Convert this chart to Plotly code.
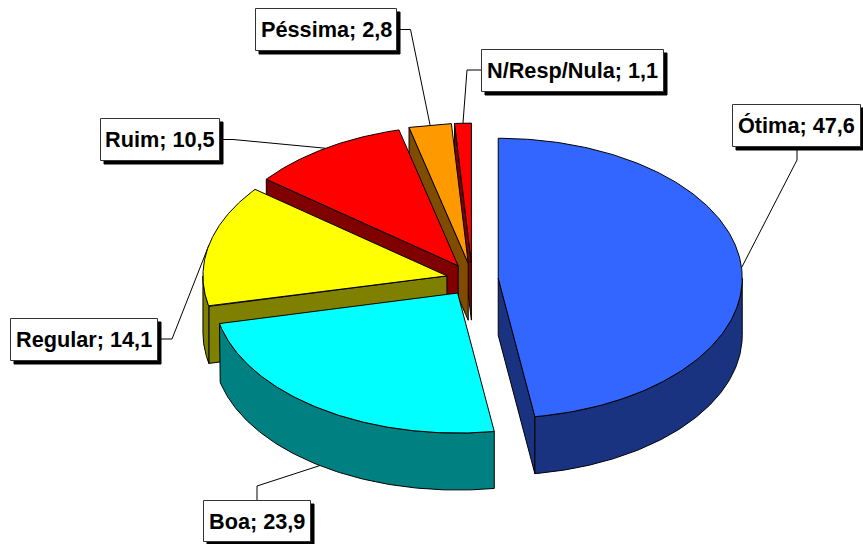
import numpy as np
import plotly.graph_objects as go

categories = ["Ótima", "Boa", "Regular", "Ruim", "Péssima", "N/Resp/Nula"]
values = [47.6, 23.9, 14.1, 10.5, 2.8, 1.1]
top_colors = ["#3366FF", "#00FFFF", "#FFFF00", "#FF0000", "#FF9900", "#FF0000"]
side_colors = ["#1A3380", "#008080", "#808000", "#800000", "#804D00", "#800000"]

W, H = 863, 544
CX, CY, RX, RY, DEPTH = 472.3, 279.5, 244.0, 140.0, 57.0
EXP_X, EXP_Y = 26.0, 16.4
BOXES = {  # left, top, right, bottom of the label boxes
    "Ótima": (732.5, 104.5, 860.5, 146.5),
    "Boa": (203.5, 500.5, 310.5, 541.5),
    "Regular": (10.5, 318.5, 157.5, 360.5),
    "Ruim": (100.5, 118.5, 219.5, 160.5),
    "Péssima": (255.5, 8.5, 396.5, 50.5),
    "N/Resp/Nula": (481.5, 49.5, 663.5, 91.5),
}
ELBOWS = {  # leader line: attachment on the box, then elbow
    "Ótima": [(797, 150), (797, 160)],
    "Boa": [(257, 500), (257, 486)],
    "Regular": [(161, 339), (172, 339)],
    "Ruim": [(222, 139.5), (233, 139.5)],
    "Péssima": [(400, 29.5), (410.5, 29.5)],
    "N/Resp/Nula": [(481, 70), (467, 70)],
}
SHADOW = 3.5


def pt(cx, cy, ang):
    return cx + RX * np.sin(ang), cy - RY * np.cos(ang)


fig = go.Figure()


def poly(xs, ys, fill):
    fig.add_trace(go.Scatter(x=list(xs), y=list(ys), mode="lines", fill="toself",
                             fillcolor=fill, line=dict(color="black", width=1),
                             hoverinfo="skip", showlegend=False))


def leader(xs, ys):
    fig.add_trace(go.Scatter(x=xs, y=ys, mode="lines", line=dict(color="black", width=1),
                             hoverinfo="skip", showlegend=False))


total = sum(values)
edges = np.concatenate([[0], np.cumsum(values)]) / total * 2 * np.pi
order = list(range(len(values)))[::-1]  # back slices first; the largest sits apart
for i in order:
    a0, a1 = edges[i], edges[i + 1]
    mid = (a0 + a1) / 2
    cx = CX + EXP_X * np.sin(mid)
    cy = CY - EXP_Y * np.cos(mid)
    x0, y0 = pt(cx, cy, a0)
    x1, y1 = pt(cx, cy, a1)
    # radial cut faces, only those that face the viewer
    if np.sin(a0) < -1e-9:
        poly([cx, x0, x0, cx, cx], [cy, y0, y0 + DEPTH, cy + DEPTH, cy], side_colors[i])
    if np.sin(a1) > 1e-9:
        poly([cx, x1, x1, cx, cx], [cy, y1, y1 + DEPTH, cy + DEPTH, cy], side_colors[i])
    # outer wall: only the part that faces the viewer
    lo, hi = max(a0, np.pi / 2), min(a1, 3 * np.pi / 2)
    if hi > lo:
        t = np.linspace(lo, hi, 120)
        wx, wy = pt(cx, cy, t)
        poly(np.r_[wx, wx[::-1], wx[0]], np.r_[wy, wy[::-1] + DEPTH, wy[0]], side_colors[i])
    # leader goes under the top face
    ax, ay = pt(cx, cy, mid)
    if categories[i] == "Boa":
        ay += DEPTH
    elbow = ELBOWS[categories[i]]
    leader([p[0] for p in elbow] + [ax], [p[1] for p in elbow] + [ay])
    # top face
    t = np.linspace(a0, a1, 200)
    tx, ty = pt(cx, cy, t)
    poly(np.r_[cx, tx, cx], np.r_[cy, ty, cy], top_colors[i])

shapes, annotations = [], []
for name, val in zip(categories, values):
    l, t_, r, b = BOXES[name]
    shapes.append(dict(type="rect", xref="x", yref="y", x0=l + SHADOW, x1=r + SHADOW,
                       y0=t_ + SHADOW, y1=b + SHADOW, fillcolor="black",
                       line=dict(color="black", width=1), layer="above"))
    shapes.append(dict(type="rect", xref="x", yref="y", x0=l, x1=r, y0=t_, y1=b,
                       fillcolor="white", line=dict(color="#333333", width=1), layer="above"))
    annotations.append(dict(x=(l + r) / 2, y=(t_ + b) / 2, xref="x", yref="y",
                            text=f"<b>{name}; {val:.1f}</b>".replace(".", ","),
                            showarrow=False, xanchor="center", yanchor="middle",
                            font=dict(family="Liberation Sans", size=21.7, color="black")))

fig.update_layout(width=W, height=H, margin=dict(l=0, r=0, t=0, b=0),
                  paper_bgcolor="white", plot_bgcolor="white", showlegend=False,
                  xaxis=dict(range=[0, W], visible=False, fixedrange=True),
                  yaxis=dict(range=[H, 0], visible=False, fixedrange=True),
                  shapes=shapes, annotations=annotations)
fig.write_html("out.html", config={"displayModeBar": False},
               post_script="document.body.style.margin='0';document.body.style.overflow='hidden';")
